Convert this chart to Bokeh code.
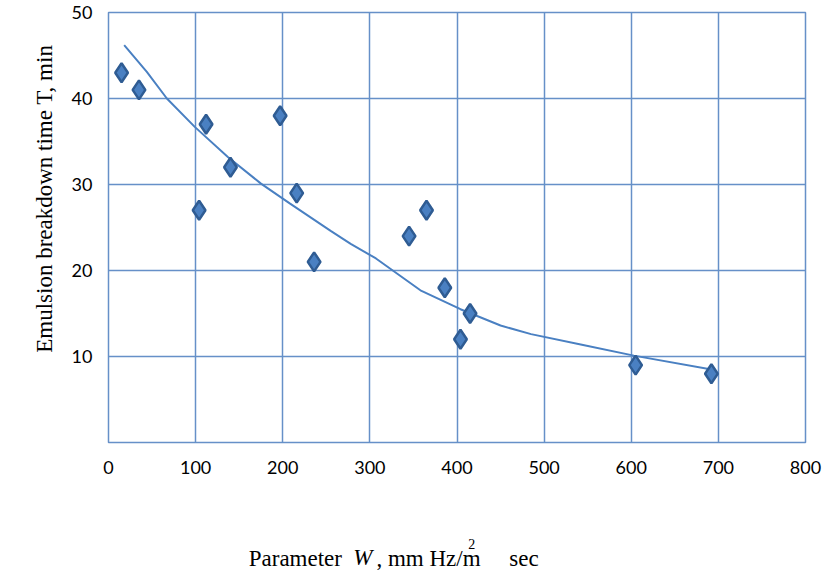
from bokeh.plotting import figure
from bokeh.models import FixedTicker, LinearAxis, ColumnDataSource, Range1d
from bokeh.embed import file_html
from bokeh.resources import INLINE

# Measured emulsion breakdown times
w_param = [15, 35, 104, 112, 140, 197, 216, 236, 345, 365, 386, 404, 415, 605, 692]
t_min = [43, 41, 27, 37, 32, 38, 29, 21, 24, 27, 18, 12, 15, 9, 8]

# Fitted trend curve
trend_w = [18, 44, 67, 99, 137, 175, 208, 255, 278, 307, 358, 404, 450, 485, 542, 603, 697]
trend_t = [46.2, 43.1, 40.0, 36.7, 33.2, 30.1, 27.8, 24.6, 23.1, 21.4, 17.7, 15.5, 13.6, 12.6, 11.4, 10.1, 8.4]

x_ticks = [0, 100, 200, 300, 400, 500, 600, 700, 800]
y_ticks = [10, 20, 30, 40, 50]

GRID = "#6690C8"
BLUE = "#4A80C2"
DARK = "#2F5C93"
SERIF = "Liberation Serif"
NBSP = "\u00a0"

p = figure(width=833, height=574, output_backend="svg", toolbar_location=None,
           x_range=Range1d(0, 800), y_range=Range1d(0, 50),
           min_border_left=108, min_border_right=28,
           min_border_top=12, min_border_bottom=132)
p.background_fill_color = "white"
p.border_fill_color = "white"
p.outline_line_color = GRID
p.outline_line_width = 1.5

p.xaxis.ticker = FixedTicker(ticks=x_ticks)
p.yaxis.ticker = FixedTicker(ticks=y_ticks)
for ax in (p.xaxis[0], p.yaxis[0]):
    ax.axis_line_color = None
    ax.major_tick_line_color = None
    ax.minor_tick_line_color = None
    ax.major_label_text_font = "Lato"
    ax.major_label_text_font_size = "18px"
    ax.major_label_text_color = "black"
p.xaxis.major_label_standoff = 12
p.yaxis.major_label_standoff = 10

# Y axis title; leading no-break spaces lift the visible text above the frame centre
p.yaxis.axis_label = NBSP * 10 + "Emulsion breakdown time T, min"
p.yaxis.axis_label_text_font = SERIF
p.yaxis.axis_label_text_font_size = "23px"
p.yaxis.axis_label_text_font_style = "normal"
p.yaxis.axis_label_text_color = "black"
p.yaxis.axis_label_standoff = 12


def text_axis(tick, label, size, style, standoff):
    """A bare axis below the frame used only to place one piece of title text."""
    ax = LinearAxis(ticker=FixedTicker(ticks=[tick]),
                    major_label_overrides={tick: label})
    ax.axis_line_color = None
    ax.major_tick_line_color = None
    ax.minor_tick_line_color = None
    ax.major_label_text_font = SERIF
    ax.major_label_text_font_size = size
    ax.major_label_text_font_style = style
    ax.major_label_text_color = "black"
    ax.major_label_standoff = standoff
    return ax


# X axis title: superscript row, then the main text as its axis label
sup_axis = text_axis(417, "2", "14px", "normal", 56)
sup_axis.axis_label = ("Parameter" + NBSP * 6 + ", mm Hz/m" + NBSP * 5 + "sec"
                       + NBSP * 22)
sup_axis.axis_label_text_font = SERIF
sup_axis.axis_label_text_font_size = "23px"
sup_axis.axis_label_text_font_style = "normal"
sup_axis.axis_label_text_color = "black"
sup_axis.axis_label_standoff = -6
p.add_layout(sup_axis, "below")

# italic W, pulled up onto the same row as the title text
w_axis = text_axis(292, "W", "23px", "italic", -35)
p.add_layout(w_axis, "below")

p.xgrid.ticker = FixedTicker(ticks=x_ticks)
p.ygrid.ticker = FixedTicker(ticks=y_ticks)
for g in (p.xgrid[0], p.ygrid[0]):
    g.grid_line_color = GRID
    g.grid_line_width = 1.5

p.line(trend_w, trend_t, line_color=BLUE, line_width=2)

src = ColumnDataSource(dict(w=w_param, t=t_min))
p.scatter("w", "t", source=src, marker="diamond", size=19,
          fill_color=BLUE, line_color=DARK, line_width=2.5)

open("out.html", "w").write(file_html(p, INLINE))
